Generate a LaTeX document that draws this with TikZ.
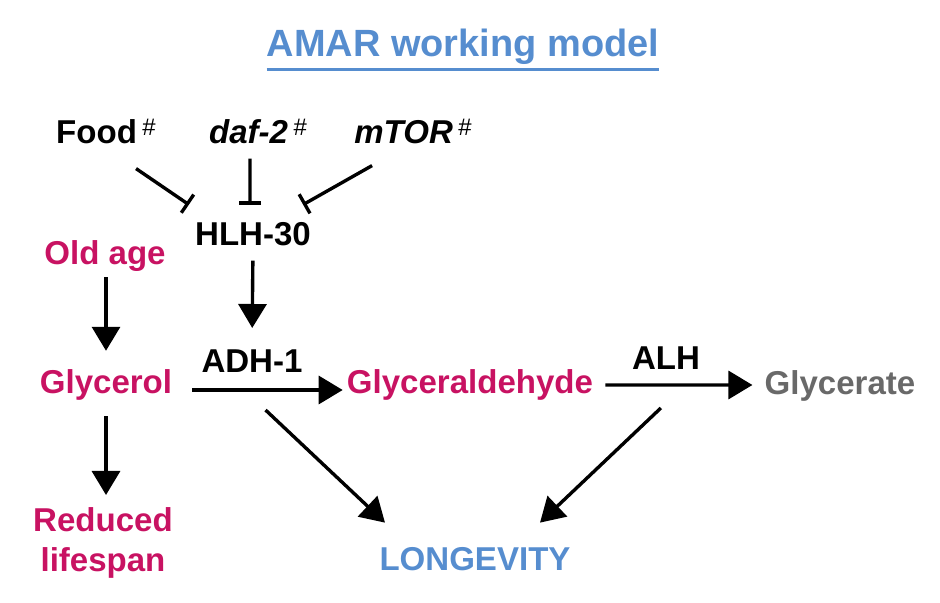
\documentclass[tikz,border=0pt]{standalone}
\usepackage{fontspec}
\setmainfont{Liberation Sans}
\usetikzlibrary{arrows.meta,calc,positioning}

\definecolor{agepink}{RGB}{200,18,98}
\definecolor{modelblue}{RGB}{86,141,207}
\definecolor{prodgrey}{RGB}{105,105,105}

\newcommand{\hsh}{\,\raisebox{2mm}{\fontsize{17}{17}\selectfont\mdseries\upshape\#}}

\begin{document}
\begin{tikzpicture}[x=0.25mm, y=-0.25mm,
    lbl/.style={font=\fontsize{23.5}{28.4}\selectfont\bfseries, inner sep=0pt, anchor=base},
    act/.style={line width=2.4pt, -{Triangle[length=6mm,width=7mm]}},
    inh/.style={line width=2.4pt, -{Bar[width=5.5mm]}}]

    \useasboundingbox (0,0) rectangle (940,603);

    \node[lbl, modelblue, font=\fontsize{27}{30}\selectfont\bfseries] (title) at (463,57) {AMAR working model};

    \node[lbl] (food) at (106,144) {Food\hsh};
    \node[lbl] (daf) at (258,144) {\itshape daf-2\hsh};
    \node[lbl] (mtor) at (413,144) {\itshape mTOR\hsh};
    \node[lbl] (hlh) at (253,246) {HLH-30};
    \node[lbl, agepink] (old) at (105,265) {Old age};

    \node[lbl] (adh) at (252,373) {ADH-1};
    \node[lbl] (alh) at (666,370) {ALH};
    \node[lbl, agepink] (glycerol) at (106,394) {Glycerol};
    \node[lbl, agepink] (glyald) at (470,394) {Glyceraldehyde};
    \node[lbl, prodgrey] (glycerate) at (840,395) {Glycerate};

    \node[lbl, agepink, align=center, anchor=north] (reduced) at (103,507) {Reduced\\lifespan};
    \node[lbl, modelblue] (longevity) at (475,570) {LONGEVITY};

    % title underline
    \draw[modelblue, line width=2pt] ([yshift=-3.1mm]title.base west) -- ([yshift=-3.1mm]title.base east);

    % repressors of HLH-30
    \draw[inh] ([xshift=-5mm,yshift=-6mm]food.south east) -- ([xshift=-1.5mm,yshift=4.5mm]hlh.north west);
    \draw[inh] ([xshift=-2mm,yshift=-3.5mm]daf.south) -- ([xshift=-0.75mm,yshift=4.5mm]hlh.north);
    \draw[inh] ([xshift=4.5mm,yshift=-5.25mm]mtor.south west) -- ([xshift=-2mm,yshift=4.5mm]hlh.north east);

    \draw[act, shorten <=3.5mm, shorten >=5.5mm] (hlh.south) -- (adh.north);
    \draw[act, shorten <=1.25mm, shorten >=4.75mm] (glycerol.north |- old.south) -- (glycerol.north);
    \draw[act, shorten <=3.75mm, shorten >=3mm] (glycerol.south) -- (glycerol.south |- reduced.north);

    \draw[act, shorten <=5mm, shorten >=1mm] ([yshift=1mm]glycerol.base east) -- coordinate (adhmid) ([yshift=1mm]glyald.base west);
    \draw[act, shorten <=3mm, shorten >=3mm] ([yshift=2.25mm]glyald.base east) -- coordinate (alhmid) ([yshift=2.5mm]glycerate.base west);

    \draw[act] ([xshift=1.5mm,yshift=-5mm]adhmid) -- ([xshift=-22.5mm,yshift=6mm]longevity.north);
    \draw[act] ([xshift=-4.5mm,yshift=-5.75mm]alhmid) -- ([xshift=16.25mm,yshift=6mm]longevity.north);
\end{tikzpicture}
\end{document}
